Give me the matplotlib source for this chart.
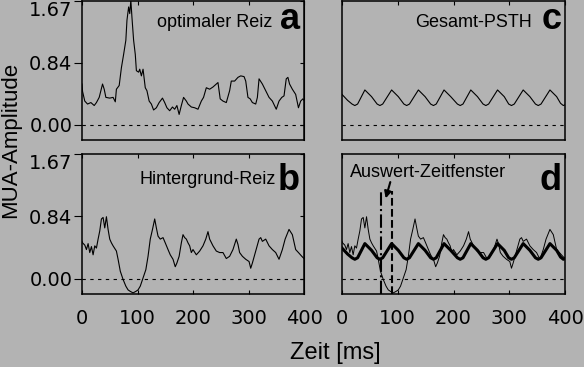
import matplotlib.pyplot as plt

# Zeitachse in ms, Werte = MUA-Amplitude
a_time = [0, 1, 5, 10, 16, 22, 26, 31, 34, 37, 40, 43, 50, 56, 60, 62, 67, 71, 75, 79,
          81, 84, 86, 88, 90, 93, 96, 98, 102, 104, 107, 110, 114, 117, 121, 125, 129, 134, 139, 145,
          149, 153, 158, 163, 167, 171, 175, 179, 183, 188, 191, 197, 203, 209, 215, 219, 224, 230, 236, 242,
          245, 249, 254, 260, 266, 269, 275, 281, 286, 292, 295, 299, 303, 307, 313, 316, 319, 325, 331, 337,
          343, 350, 355, 360, 364, 368, 371, 374, 379, 385, 390, 394, 398, 400]
a_val = [0.55, 0.45, 0.32, 0.28, 0.30, 0.26, 0.30, 0.37, 0.46, 0.55, 0.48, 0.37, 0.36, 0.37, 0.31, 0.48, 0.53, 0.77, 0.95, 1.14,
         1.41, 1.59, 1.50, 1.68, 1.45, 1.14, 0.95, 0.73, 0.71, 0.75, 0.66, 0.75, 0.50, 0.46, 0.32, 0.28, 0.20, 0.23, 0.30, 0.36,
         0.30, 0.23, 0.19, 0.24, 0.21, 0.26, 0.14, 0.26, 0.37, 0.32, 0.28, 0.24, 0.23, 0.21, 0.32, 0.37, 0.50, 0.48, 0.51, 0.55,
         0.57, 0.35, 0.32, 0.30, 0.46, 0.59, 0.59, 0.64, 0.66, 0.65, 0.59, 0.37, 0.35, 0.30, 0.28, 0.37, 0.62, 0.55, 0.46, 0.37,
         0.32, 0.21, 0.32, 0.37, 0.39, 0.62, 0.64, 0.55, 0.48, 0.41, 0.23, 0.32, 0.35, 0.33]

b_time = [0, 1, 5, 8, 11, 14, 17, 20, 23, 26, 29, 32, 35, 38, 41, 44, 47, 50, 53, 56, 62,
          65, 69, 74, 79, 83, 87, 92, 97, 101, 105, 110, 115, 119, 123, 127, 131, 134, 137, 141, 146,
          150, 155, 159, 164, 168, 171, 175, 179, 182, 185, 188, 191, 194, 197, 200, 206, 212, 218, 223, 227,
          230, 236, 242, 248, 254, 260, 266, 272, 278, 281, 284, 289, 295, 301, 304, 307, 313, 319, 322, 325,
          331, 337, 343, 349, 355, 361, 366, 373, 379, 385, 390, 396, 400]
b_val = [0.50, 0.48, 0.45, 0.39, 0.47, 0.35, 0.43, 0.32, 0.44, 0.41, 0.53, 0.64, 0.80, 0.82, 0.68, 0.83, 0.66, 0.53, 0.48, 0.44, 0.37,
         0.26, 0.10, -0.01, -0.10, -0.15, -0.17, -0.19, -0.17, -0.15, -0.10, 0.01, 0.12, 0.30, 0.53, 0.66, 0.80, 0.68, 0.57, 0.53, 0.55,
         0.48, 0.39, 0.32, 0.26, 0.16, 0.21, 0.30, 0.48, 0.59, 0.55, 0.53, 0.48, 0.44, 0.35, 0.39, 0.32, 0.37, 0.44, 0.53, 0.63,
         0.53, 0.44, 0.37, 0.35, 0.35, 0.27, 0.30, 0.39, 0.53, 0.46, 0.35, 0.30, 0.26, 0.23, 0.14, 0.21, 0.37, 0.53, 0.55, 0.50,
         0.53, 0.44, 0.39, 0.35, 0.26, 0.39, 0.53, 0.66, 0.59, 0.39, 0.35, 0.30, 0.27]

c_time = [0, 10, 18, 23, 28, 41, 53, 63, 68, 73, 89, 101, 111, 116, 121, 137, 149, 159, 164, 169,
          183, 195, 207, 212, 217, 231, 243, 253, 258, 263, 279, 291, 299, 304, 309, 325, 337, 347, 352, 357,
          373, 385, 392, 397, 400]
c_val = [0.41, 0.33, 0.28, 0.26, 0.28, 0.47, 0.38, 0.28, 0.26, 0.28, 0.47, 0.38, 0.28, 0.26, 0.28, 0.47, 0.38, 0.28, 0.26, 0.28,
         0.47, 0.38, 0.28, 0.26, 0.28, 0.47, 0.38, 0.28, 0.26, 0.28, 0.47, 0.38, 0.28, 0.26, 0.28, 0.47, 0.38, 0.28, 0.26, 0.28,
         0.47, 0.38, 0.29, 0.26, 0.27]

window_ms = [70, 90]
window_top = 1.18
x_ticks = [0, 100, 200, 300, 400]
y_ticks = [0.0, 0.835, 1.67]
y_labels = ['0.00', '0.84', '1.67']

bg = '#b3b3b3'
W, H = 584, 367
ylo, yhi = -0.205, 1.67
sans = 'Liberation Sans'


def box(x0, y0, x1, y1):
    return [x0 / W, 1 - y1 / H, (x1 - x0) / W, (y1 - y0) / H]


def style(ax, left, bottom):
    ax.set_facecolor(bg)
    ax.set_xlim(0, 400)
    ax.set_ylim(ylo, yhi)
    ax.axhline(0, color='k', lw=0.8, dashes=(3, 4))
    for s in ax.spines.values():
        s.set_linewidth(1.1)
    ax.set_xticks(x_ticks)
    ax.tick_params(axis='x', direction='in', top=True, bottom=bottom, labelbottom=bottom,
                   length=3, pad=11, labelsize=14)
    if left:
        ax.set_yticks(y_ticks)
        ax.set_yticklabels(y_labels)
        ax.tick_params(axis='y', direction='out', length=6, pad=1, labelsize=14)
        ax.get_yticklabels()[-1].set_verticalalignment('top')
        sec = ax.secondary_yaxis('right')
        sec.set_yticks(y_ticks)
        sec.tick_params(direction='in', length=3, labelright=False)
    else:
        ax.set_yticks([])


fig = plt.figure(figsize=(W / 100, H / 100), dpi=100, facecolor=bg)
axa = fig.add_axes(box(82, 1, 304, 140))
axb = fig.add_axes(box(82, 154, 304, 294))
axc = fig.add_axes(box(342, 1, 565, 140))
axd = fig.add_axes(box(342, 154, 565, 294))

style(axa, True, False)
style(axb, True, True)
style(axc, False, False)
style(axd, False, True)

axa.plot(a_time, a_val, color='k', lw=0.8)
axb.plot(b_time, b_val, color='k', lw=0.8)
axc.plot(c_time, c_val, color='k', lw=0.8)
axd.plot(b_time, b_val, color='k', lw=0.7)
axd.plot(c_time, c_val, color='k', lw=2.2)

axd.vlines(window_ms[0], ylo, window_top, colors='k', linestyles='-.', lw=1.5)
axd.vlines(window_ms[1], ylo, window_top, colors='k', linestyles='--', lw=1.5)
axd.annotate('', xy=(77, 1.04), xytext=(88, 1.33),
             arrowprops=dict(arrowstyle='-|>', color='k', lw=1.5, mutation_scale=10))

fig.text(272 / W, 1 - 27 / H, 'optimaler Reiz', ha='right', va='baseline', fontsize=13, family=sans)
fig.text(276 / W, 1 - 184 / H, 'Hintergrund-Reiz', ha='right', va='baseline', fontsize=13, family=sans)
fig.text(532 / W, 1 - 27 / H, 'Gesamt-PSTH', ha='right', va='baseline', fontsize=13, family=sans)
fig.text(350 / W, 1 - 177 / H, 'Auswert-Zeitfenster', ha='left', va='baseline', fontsize=13, family=sans)

for x, y, s in [(300, 29, 'a'), (300, 190, 'b'), (562, 29, 'c'), (562, 190, 'd')]:
    fig.text(x / W, 1 - y / H, s, ha='right', va='baseline', fontsize=26, fontweight='bold', family=sans)

fig.text(11 / W, 1 - 140 / H, 'MUA-Amplitude', rotation=90, ha='center', va='center', fontsize=16, family=sans)
fig.text(335 / W, 1 - 353 / H, 'Zeit [ms]', ha='center', va='center', fontsize=17, family=sans)

fig.savefig('out.png', dpi=100, facecolor=bg)
